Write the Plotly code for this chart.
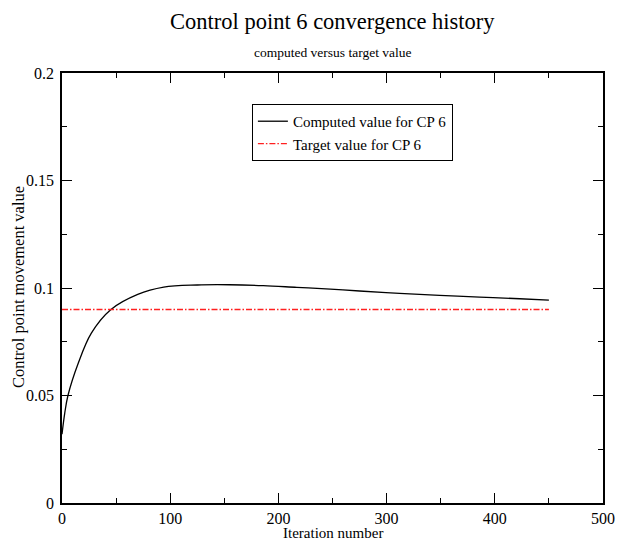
import plotly.graph_objects as go

iterations = [0, 2.5, 5.5, 15, 27, 45, 70, 94, 125, 155, 186, 217, 248, 275, 312, 349, 386, 423, 450]
computed = [0.032, 0.0417, 0.050, 0.065, 0.0789, 0.0899, 0.0970, 0.1004, 0.1014, 0.1015, 0.1011,
            0.1003, 0.0995, 0.0986, 0.0975, 0.0966, 0.0958, 0.0950, 0.0944]
target_iters = [0, 450]
target_vals = [0.09, 0.09]

FONT = "Liberation Serif"
W, H = 617, 545
ML, MR, MT, MB = 62, 14, 73, 42
PW, PH = W - ML - MR, H - MT - MB

fig = go.Figure()
fig.add_trace(go.Scatter(x=iterations, y=computed, mode="lines",
                         line=dict(color="black", width=1.3, shape="spline", smoothing=1.0),
                         name="Computed value for CP 6"))
fig.add_trace(go.Scatter(x=target_iters, y=target_vals, mode="lines",
                         line=dict(color="#ff2020", width=1.3, dash="6px,2px,1.5px,2px"),
                         name="Target value for CP 6"))

axis_common = dict(showgrid=False, zeroline=False, showline=True, linecolor="black", linewidth=1.5,
                   mirror="ticks", ticks="inside", ticklen=10, tickwidth=1, tickcolor="black",
                   automargin=False,
                   tickfont=dict(family=FONT, size=16, color="black"))

fig.update_xaxes(range=[0, 500], tickvals=[0, 100, 200, 300, 400, 500],
                 minor=dict(dtick=50, tick0=0, ticks="inside", ticklen=5, tickcolor="black", tickwidth=1),
                 **axis_common)
fig.update_yaxes(range=[0, 0.2], tickvals=[0, 0.05, 0.1, 0.15, 0.2], ticktext=["0", "0.05", "0.1", "0.15", "0.2"],
                 minor=dict(dtick=0.025, tick0=0, ticks="inside", ticklen=5, tickcolor="black", tickwidth=1),
                 ticklabelstandoff=3,
                 **axis_common)


def px_x(px):
    return (px - ML) / PW


def px_y(py):
    return (H - MB - py) / PH


fig.update_layout(
    width=W, height=H,
    margin=dict(l=ML, r=MR, t=MT, b=MB),
    paper_bgcolor="white", plot_bgcolor="white",
    font=dict(family=FONT, color="black"),
    showlegend=True,
    legend=dict(x=0.351, y=0.928, xanchor="left", yanchor="top",
                bordercolor="black", borderwidth=1, bgcolor="white",
                font=dict(family=FONT, size=15, color="black"),
                tracegroupgap=0, itemwidth=30),
    annotations=[
        dict(text="Control point 6 convergence history", x=0.5, y=px_y(22), xref="paper", yref="paper",
             yanchor="middle", showarrow=False, font=dict(family=FONT, size=22.5, color="black")),
        dict(text="computed versus target value", x=0.5, y=px_y(52), xref="paper", yref="paper",
             yanchor="middle", showarrow=False, font=dict(family=FONT, size=13.5, color="black")),
        dict(text="Iteration number", x=px_x(333), y=px_y(533), xref="paper", yref="paper",
             xanchor="center", yanchor="middle", showarrow=False,
             font=dict(family=FONT, size=15, color="black")),
        dict(text="Control point movement value", x=px_x(18), y=px_y(287), xref="paper", yref="paper",
             xanchor="center", yanchor="middle", textangle=-90, showarrow=False,
             font=dict(family=FONT, size=16.5, color="black")),
    ],
)

fig.write_html("out.html")
